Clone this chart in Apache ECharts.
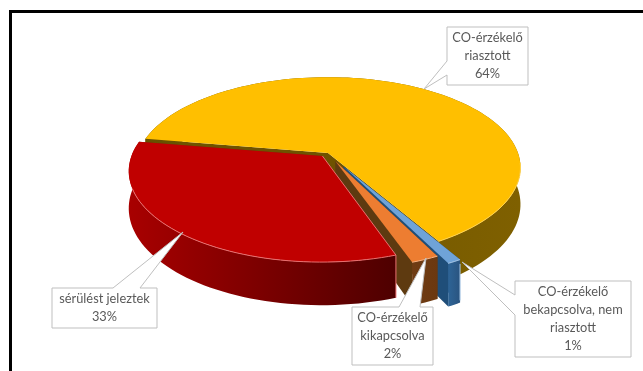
<!DOCTYPE html>
<html><head><meta charset="utf-8">
<style>html,body{margin:0;padding:0;background:#fff}#c{width:643px;height:371px}</style>
<script src="https://cdn.jsdelivr.net/npm/echarts@6/dist/echarts.min.js"></script></head>
<body><div id="c"></div>
<script>
const categories = ['CO-érzékelő\nriasztott', 'CO-érzékelő\nbekapcsolva, nem\nriasztott', 'CO-érzékelő\nkikapcsolva', 'sérülést jeleztek'];
const values = [64, 1, 2, 33];

const START = -80.5, total = values.reduce((a, b) => a + b, 0);
const P = {cx: 328, cy: 153, rx: 190, ry: 88, k: 0.16, depth: 36};
const explode = [0, 0.17, 0.1, 0.045];
const paintOrder = [0, 1, 2, 3];
const looks = [
  {top: '#FFBF00', edge: '#FFD24D', wall: ['#7F6000', '#665000'], cutA: '#6E5200', cutB: '#6E5200'},
  {top: '#6FA3D8', edge: '#A9C9E8', wall: ['#2E6496', '#2A5480'], cutA: '#1F4E79', cutB: '#1F4E79'},
  {top: '#ED7D31', edge: '#F4B183', wall: ['#6F3C14', '#6B3810'], cutA: '#5E3A10', cutB: '#5E3A10'},
  {top: '#C00000', edge: '#E87070', wall: ['#A80000', '#4E0000'], cutA: '#5E3A10', cutB: '#5E3A10'}
];
const callouts = [
  {box: [447, 27, 81, 58], tip: [424, 89], base: [[447, 61], [447, 75]]},
  {box: [515, 281, 116, 76], tip: [462, 262], base: [[515, 295], [515, 315]]},
  {box: [352, 307, 81, 58], tip: [426, 258], base: [[399, 307], [420, 307]]},
  {box: [52, 288, 105, 40], tip: [183, 232], base: [[113, 288], [140, 288]]}
];

function spans() {
  let a = START;
  return values.map(v => { const s = [a, a + v / total * 360]; a = s[1]; return s; });
}
function proj(u, v, z) {
  const w = 1 + P.k * v;
  return [P.cx + P.rx * u / w, P.cy - P.ry * v / w + P.depth * z / w];
}
function pt(deg, r, off, z) {
  const t = deg * Math.PI / 180;
  return proj(r * Math.sin(t) + off[0], r * Math.cos(t) + off[1], z);
}
const poly = (points, fill) => ({type: 'polygon', shape: {points}, style: {fill}});
const line = (points, stroke, width) => ({type: 'polyline', shape: {points}, style: {fill: null, stroke, lineWidth: width || 1}});

function renderSlice(params, api) {
  const i = api.value(0);
  const [a, b] = spans()[i];
  const mid = (a + b) / 2 * Math.PI / 180;
  const off = [explode[i] * Math.sin(mid), explode[i] * Math.cos(mid)];
  const L = looks[i], ch = [];
  const n = Math.max(4, Math.ceil((b - a) / 2));
  const arc = [];
  for (let j = 0; j <= n; j++) arc.push(a + (b - a) * j / n);
  ch.push(poly([pt(0, 0, off, 0), pt(a, 1, off, 0), pt(a, 1, off, 1), pt(0, 0, off, 1)], L.cutA));
  ch.push(poly([pt(0, 0, off, 0), pt(b, 1, off, 0), pt(b, 1, off, 1), pt(0, 0, off, 1)], L.cutB));
  const wall = arc.map(d => pt(d, 1, off, 0)).concat(arc.slice().reverse().map(d => pt(d, 1, off, 1)));
  ch.push(poly(wall, {type: 'linear', x: i === 0 ? 1 : 0, y: 0, x2: i === 0 ? 0 : 1, y2: 0,
    colorStops: [{offset: 0, color: L.wall[0]}, {offset: 1, color: L.wall[1]}]}));
  ch.push(poly([pt(0, 0, off, 0)].concat(arc.map(d => pt(d, 1, off, 0))), L.top));
  ch.push(line(arc.filter(d => { const t = ((d % 360) + 360) % 360; return t > 95 && t < 250; }).map(d => pt(d, 1, off, 0)), L.edge));
  if (i === 3) {
    ch.push(line([pt(0, 0, off, 0), pt(a, 1, off, 0), pt(a, 1, off, 1)], L.edge));
  }
  if (i === 1) {
    ch.push(line([pt(a, 1, off, 0.1), pt(a, 1, off, 0.95)], L.edge));
  }
  return {type: 'group', children: ch};
}
function renderCallout(params, api) {
  const i = api.value(0), c = callouts[i], [x, y, w, h] = c.box;
  let pts;
  if (c.base[0][0] === c.base[1][0]) {
    pts = [[x, y], [x + w, y], [x + w, y + h], [x, y + h], c.base[1], c.tip, c.base[0]];
  } else {
    pts = [[x, y], c.base[0], c.tip, c.base[1], [x + w, y], [x + w, y + h], [x, y + h]];
  }
  return {type: 'group', children: [
    {type: 'polygon', shape: {points: pts}, style: {fill: '#fff', stroke: '#BFBFBF', lineWidth: 1}},
    {type: 'text', style: {x: x + w / 2, y: y + h / 2, text: categories[i] + '\n' + values[i] + '%',
      align: 'center', verticalAlign: 'middle', fill: '#595959', font: '12.8px Lato', lineHeight: 18}}
  ]};
}
const chart = echarts.init(document.getElementById('c'), null, {renderer: 'canvas'});
chart.setOption({
  animation: false,
  backgroundColor: '#fff',
  graphic: [
    {type: 'rect', shape: {x: 9, y: 10, width: 634, height: 3}, style: {fill: '#000'}},
    {type: 'rect', shape: {x: 9, y: 10, width: 3, height: 361}, style: {fill: '#000'}}
  ],
  series: [
    {type: 'custom', coordinateSystem: 'none', silent: true, renderItem: renderSlice,
     data: paintOrder.map(i => [i, values[i]])},
    {type: 'custom', coordinateSystem: 'none', silent: true, renderItem: renderCallout, z: 5,
     data: categories.map((c, i) => [i, values[i]])}
  ]
});
</script></body></html>
